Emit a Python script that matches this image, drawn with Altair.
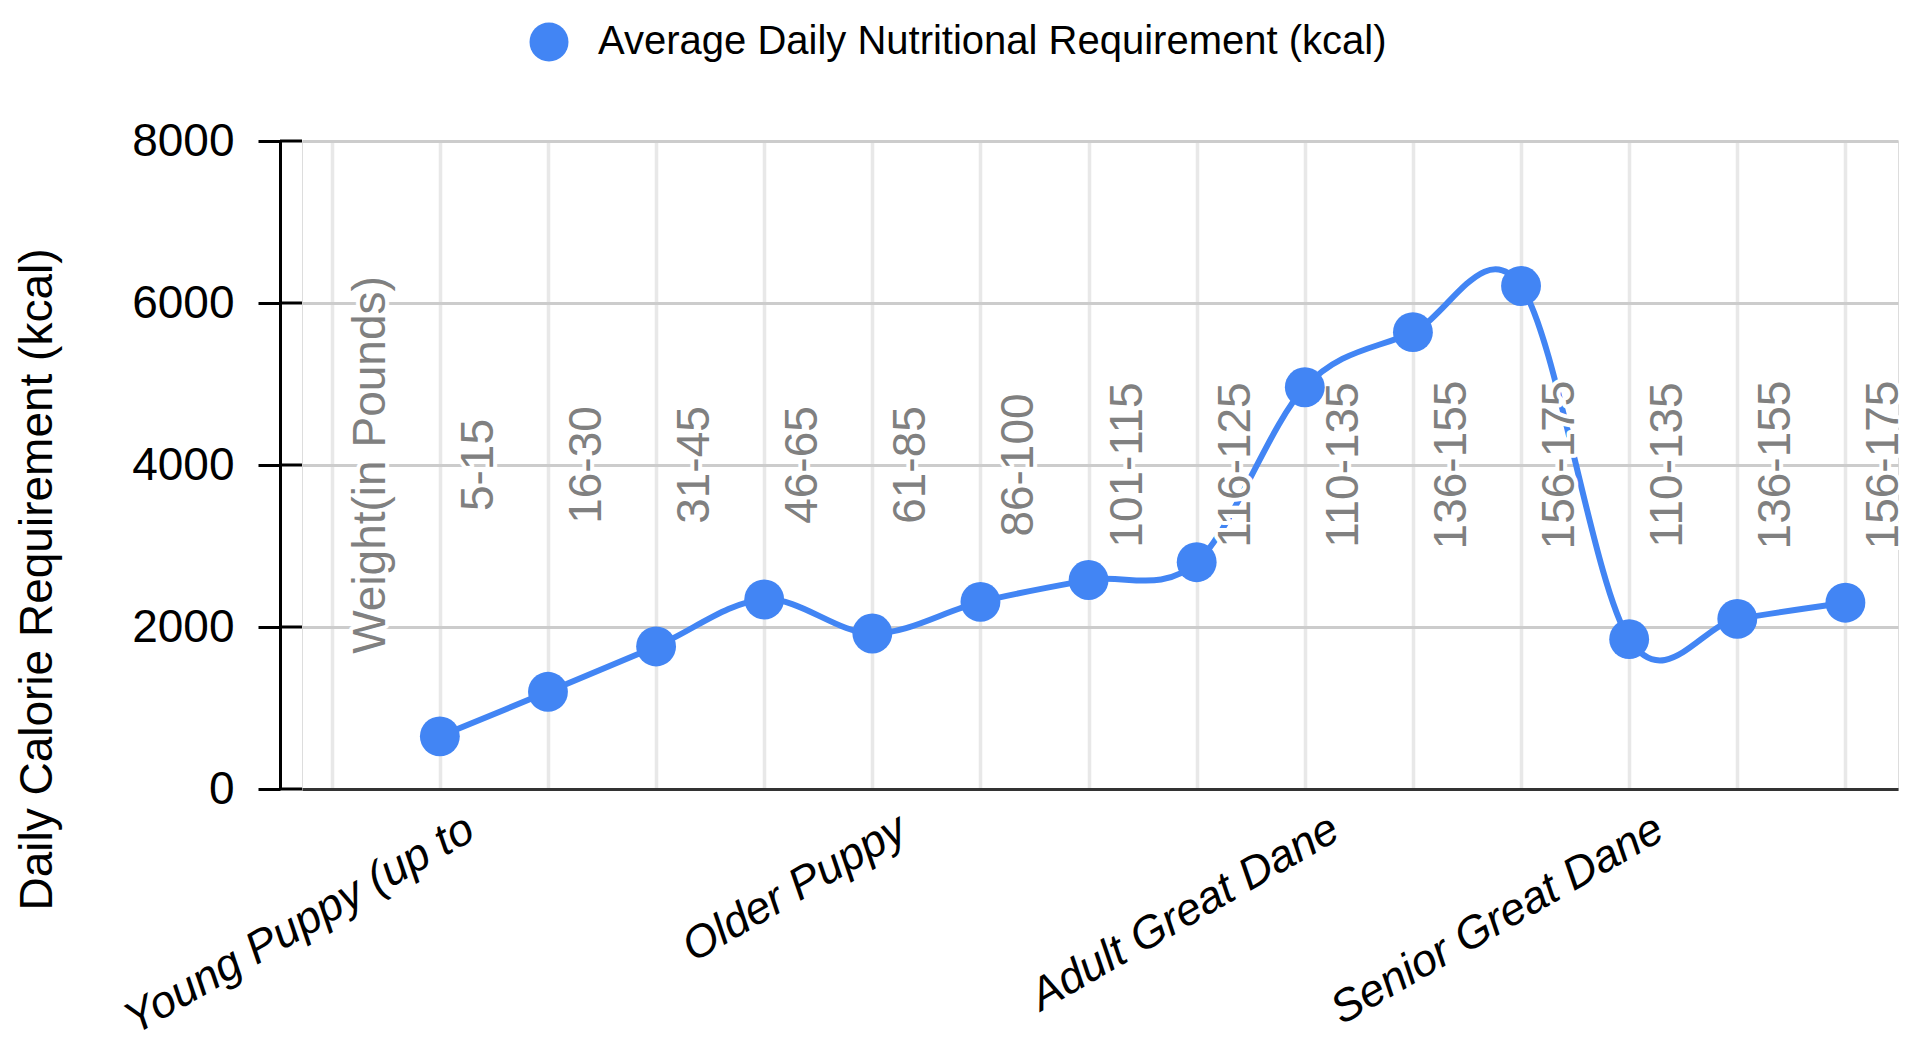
import json
import altair as alt
import pandas as pd

# ---- data ----
stages = ["", "Young Puppy (up to", "", "", "", "Older Puppy", "", "", "",
          "Adult Great Dane", "", "", "Senior Great Dane", "", ""]
weights = ["Weight(in Pounds)", "5-15", "16-30", "31-45", "46-65", "61-85", "86-100",
           "101-115", "116-125", "110-135", "136-155", "156-175", "110-135", "136-155", "156-175"]
calories = [None, 650, 1200, 1760, 2340, 1920, 2310, 2580, 2800, 4960, 5640, 6210, 1850, 2100, 2300]
y_ticks = [0, 2000, 4000, 6000, 8000]
series_name = "Average Daily Nutritional Requirement (kcal)"

idx = list(range(len(weights)))
df = pd.DataFrame({"idx": idx, "weight": weights, "stage": stages,
                   "kcal": calories, "series": series_name})
pts = df.dropna(subset=["kcal"])
ticks_df = pd.DataFrame({"tick": y_ticks})

FONT = "Liberation Sans"
BLUE = "#4285F4"
W, H = 1596, 648

x_scale = alt.Scale(domain=[-0.275, 14.4865], nice=False, zero=False)
y_scale = alt.Scale(domain=[0, 8000], nice=False, zero=True)

label_expr = json.dumps(stages) + "[datum.value]"

x_axis = alt.Axis(values=idx, labelExpr=label_expr, title=None, ticks=False, tickSize=0,
                  domainColor="#333333", domainWidth=3,
                  gridColor="#e8e8e8", gridWidth=3.5,
                  labelFont=FONT, labelFontSize=45, labelFontStyle="italic",
                  labelColor="black", labelAngle=330, labelAlign="right",
                  labelBaseline="top", labelPadding=17, labelOffset=19,
                  labelOverlap=False, labelFlush=False, labelBound=False, labelLimit=2000)

y_axis = alt.Axis(values=y_ticks, format="d", title="Daily Calorie Requirement (kcal)",
                  offset=22, tickSize=22, tickWidth=3, tickColor="black",
                  domainColor="black", domainWidth=3,
                  gridColor="#cccccc", gridWidth=3,
                  labelFont=FONT, labelFontSize=46, labelColor="black", labelPadding=24,
                  labelFlush=False,
                  titleFont=FONT, titleFontSize=46, titleFontWeight="normal", titleColor="black",
                  titleAngle=270, titleAlign="center", titleBaseline="alphabetic",
                  titleX=-229, titleY=438)

line = alt.Chart(pts).mark_line(color=BLUE, strokeWidth=6, interpolate="cardinal").encode(
    x=alt.X("idx:Q", scale=x_scale, axis=x_axis),
    y=alt.Y("kcal:Q", scale=y_scale, axis=y_axis),
)

halo = alt.Chart(df).mark_text(angle=270, align="center", baseline="alphabetic", dy=53,
                               font=FONT, fontSize=46, fill="white", stroke="white",
                               strokeWidth=8, strokeJoin="round").encode(
    x=alt.X("idx:Q"), y=alt.datum(4000), text="weight:N")

wlabels = alt.Chart(df).mark_text(angle=270, align="center", baseline="alphabetic", dy=53,
                                  font=FONT, fontSize=46, color="#808080").encode(
    x=alt.X("idx:Q"), y=alt.datum(4000), text="weight:N")

stubs = alt.Chart(ticks_df).mark_rule(color="black", strokeWidth=3).encode(
    y=alt.Y("tick:Q"), x=alt.value(-22), x2=alt.value(0))

points = alt.Chart(pts).mark_circle(size=1590, opacity=1).encode(
    x=alt.X("idx:Q"),
    y=alt.Y("kcal:Q"),
    color=alt.Color("series:N", scale=alt.Scale(range=[BLUE]),
                    legend=alt.Legend(orient="none", legendX=227, legendY=-119, title=None,
                                      symbolType="circle", symbolSize=1520, symbolOpacity=1,
                                      symbolStrokeWidth=0, labelFont=FONT, labelFontSize=40,
                                      labelColor="black", labelOffset=29, padding=0,
                                      labelLimit=2000)),
)

chart = alt.layer(line, halo, wlabels, stubs, points).properties(
    width=W, height=H,
    autosize=alt.AutoSizeParams(type="none"),
    padding={"left": 294, "top": 133, "right": 15, "bottom": 248},
    background="white",
).configure_view(strokeWidth=0).configure(font=FONT)

chart.save("out.html", embed_options={"renderer": "svg", "actions": False})
